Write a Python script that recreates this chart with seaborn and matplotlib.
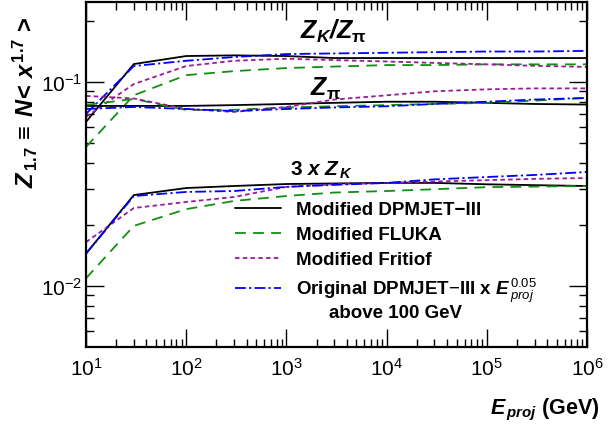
import numpy as np
import pandas as pd
import matplotlib
matplotlib.use("Agg")
import matplotlib.pyplot as plt
import seaborn as sns
from matplotlib.ticker import LogLocator, NullFormatter

# energies (GeV)
energy = [10, 30, 100, 300, 1e3, 3e3, 1e4, 3e4, 1e5, 3e5, 1e6]

# Z_K / Z_pi
kpi_dpm = [0.0637, 0.1224, 0.134, 0.135, 0.134, 0.131, 0.131, 0.131, 0.131, 0.131, 0.131]
kpi_fluka = [0.048, 0.086, 0.108, 0.113, 0.117, 0.119, 0.121, 0.121, 0.122, 0.122, 0.122]
kpi_fritiof = [0.0674, 0.0977, 0.1197, 0.127, 0.130, 0.128, 0.126, 0.124, 0.122, 0.120, 0.1185]
kpi_orig = [0.0697, 0.1197, 0.127, 0.1325, 0.137, 0.138, 0.139, 0.140, 0.141, 0.141, 0.142]

# Z_pi
pi_dpm = [0.0763, 0.0763, 0.0763, 0.077, 0.078, 0.079, 0.080, 0.080, 0.079, 0.078, 0.0775]
pi_fluka = [0.0771, 0.0826, 0.0729, 0.073, 0.075, 0.076, 0.077, 0.078, 0.079, 0.081, 0.0835]
pi_fritiof = [0.0854, 0.083, 0.0737, 0.0713, 0.0754, 0.082, 0.086, 0.090, 0.092, 0.093, 0.093]
pi_orig = [0.0737, 0.0754, 0.0737, 0.072, 0.0737, 0.075, 0.076, 0.078, 0.080, 0.082, 0.0835]

# 3 x Z_K
k_dpm = [0.0144, 0.0279, 0.0302, 0.0309, 0.0316, 0.0318, 0.032, 0.032, 0.0315, 0.0312, 0.0309]
k_fluka = [0.0109, 0.0197, 0.0238, 0.0261, 0.0276, 0.0287, 0.0292, 0.0298, 0.0305, 0.0307, 0.0309]
k_fritiof = [0.0164, 0.0241, 0.0258, 0.0273, 0.0306, 0.0315, 0.032, 0.0325, 0.033, 0.0335, 0.0338]
k_orig = [0.0144, 0.0276, 0.0289, 0.0292, 0.0306, 0.0313, 0.032, 0.0333, 0.0342, 0.035, 0.0362]

models = ["Modified DPMJET\u2212III", "Modified FLUKA", "Modified Fritiof",
          r"Original DPMJET$-$III x $\mathbfit{E}^{\,0.05}_{\,proj}$"]
colors = ["black", "#109010", "#9a1a9a", "#0000ff"]
styles = ["-", (0, (6, 4)), (0, (2.5, 1.8)), (0, (6, 1.8, 1.2, 1.8))]

sns.set_style("ticks", {"axes.edgecolor": "black", "text.color": "black",
                        "xtick.color": "black", "ytick.color": "black"})
plt.rcParams["font.family"] = ["Liberation Sans", "DejaVu Sans"]
plt.rcParams["mathtext.fontset"] = "custom"
plt.rcParams["mathtext.rm"] = "Liberation Sans"
plt.rcParams["mathtext.it"] = "Liberation Sans:italic"
plt.rcParams["mathtext.bf"] = "Liberation Sans:bold"
plt.rcParams["mathtext.bfit"] = "Liberation Sans:bold:italic"

fig = plt.figure(figsize=(6.14, 4.27), dpi=100)
ax = fig.add_axes([86 / 614, 1 - 348 / 427, 501 / 614, 345 / 427])

groups = [
    [kpi_dpm, kpi_fluka, kpi_fritiof, kpi_orig],
    [pi_dpm, pi_fluka, pi_fritiof, pi_orig],
    [k_dpm, k_fluka, k_fritiof, k_orig],
]
for g, series in enumerate(groups):
    for i, vals in enumerate(series):
        df = pd.DataFrame({"E": energy, "Z": vals})
        sns.lineplot(data=df, x="E", y="Z", ax=ax, color=colors[i], linestyle=styles[i],
                     lw=1.3, label=models[i] if g == 0 else None, legend=False)

ax.set_xscale("log")
ax.set_yscale("log")
ax.set_xlim(10, 1e6)
ax.set_ylim(0.00502, 0.2466)
ax.set_xlabel("")
ax.set_ylabel("")

ax.yaxis.set_minor_locator(LogLocator(base=10, subs=np.arange(2, 10)))
ax.yaxis.set_minor_formatter(NullFormatter())
ax.xaxis.set_minor_locator(LogLocator(base=10, subs=np.arange(2, 10)))
ax.xaxis.set_minor_formatter(NullFormatter())
ax.tick_params(which="both", direction="in", top=True, right=True, labelsize=15,
               colors="black")
ax.tick_params(axis="y", pad=3)
ax.tick_params(axis="x", pad=7)
ax.tick_params(which="major", length=13, width=1)
ax.tick_params(which="minor", length=6, width=1)
for s in ax.spines.values():
    s.set_linewidth(1.6)
    s.set_color("black")

# curve labels
ax.text(1370, 0.178, r"$\mathbfit{Z_K/Z}_{\mathbf{\pi}}$", fontsize=18, va="center", ha="left")
ax.text(1720, 0.093, r"$\mathbfit{Z}_{\mathbf{\pi}}$", fontsize=18, va="center", ha="left")
ax.text(1090, 0.0372, r"$\mathbf{3}\ \mathbfit{x}\ \mathbfit{Z}_{\,\mathbfit{K}}$", fontsize=15,
        va="center", ha="left")

leg = ax.legend(loc="upper left", bbox_to_anchor=(235 / 614, 1 - 202 / 427),
                bbox_transform=fig.transFigure, frameon=False, borderpad=0, borderaxespad=0,
                handlelength=2.45, handletextpad=0.8, labelspacing=0.42,
                prop={"weight": "bold", "size": 13.5})
fig.text(396 / 614, 1 - 314 / 427, "above 100 GeV", fontsize=13.5, fontweight="bold",
         ha="center", va="center")

fig.text(600 / 614, 1 - 410 / 427, r"$\mathbfit{E}_{\,\mathbfit{proj}}$ (GeV)", fontsize=15.5,
         fontweight="bold", ha="right", va="center")
fig.text(25 / 614, 1 - 188 / 427,
         r"$\mathbfit{Z}_{\,\mathbf{1.7}}\,\equiv\;\mathbfit{N}\!\mathbf{<}\,\mathbfit{x}^{\,\mathbf{1.7}}\,\mathbf{>}$",
         fontsize=17, rotation=90, ha="center", va="bottom")

fig.savefig("out.png", dpi=100)
